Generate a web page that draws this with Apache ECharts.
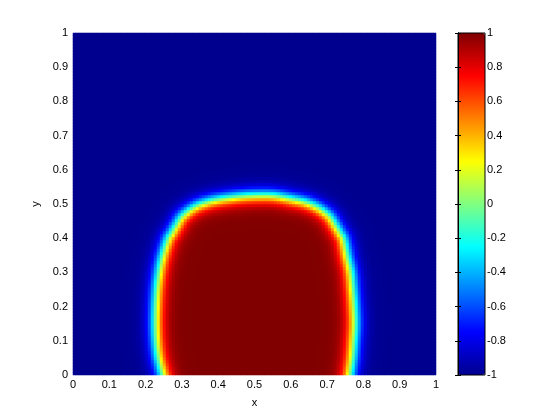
<!DOCTYPE html>
<html>
<head>
<meta charset="utf-8">
<script src="https://cdn.jsdelivr.net/npm/echarts@6/dist/echarts.min.js"></script>
<style>
  html, body { margin: 0; padding: 0; background: #fff; }
  #main { width: 560px; height: 420px; }
</style>
</head>
<body>
<div id="main"></div>
<script>
// zero contour of the field (bottom-left, over the top, to bottom-right)
var boundaryX = [0.248, 0.236, 0.230, 0.228, 0.229, 0.232, 0.238, 0.247, 0.262, 0.273, 0.287, 0.303, 0.336, 0.369, 0.405, 0.460, 0.508,
                 0.555, 0.605, 0.641, 0.674, 0.705, 0.722, 0.736, 0.746, 0.756, 0.766, 0.771, 0.775, 0.777, 0.774, 0.770, 0.763];
var boundaryY = [0.000, 0.050, 0.100, 0.150, 0.200, 0.250, 0.300, 0.345, 0.395, 0.415, 0.440, 0.465, 0.491, 0.505, 0.514, 0.522, 0.525,
                 0.524, 0.514, 0.505, 0.490, 0.466, 0.440, 0.415, 0.395, 0.345, 0.300, 0.250, 0.200, 0.150, 0.100, 0.050, 0.000];
var interfaceWidth = 0.026; // thickness of the diffuse edge
var cellsX = 121, cellsY = 114; // about 3px per cell
var insideValue = 1, outsideValue = -1;

// 9 stops of the jet colormap
var jetColors = ['#00008f', '#0000ff', '#0080ff', '#00ffff', '#80ff80', '#ffff00', '#ff8000', '#ff0000', '#800000'];

// smooth the read contour (catmull-rom) so it has no kinks
function smoothPath(xs, ys, steps) {
  var out = [[xs[0], ys[0]]];
  var n = xs.length;
  for (var i = 0; i < n - 1; i++) {
    var i0 = Math.max(0, i - 1), i3 = Math.min(n - 1, i + 2);
    for (var s = 1; s <= steps; s++) {
      var t = s / steps, t2 = t * t, t3 = t2 * t;
      var f = function (p0, p1, p2, p3) {
        return 0.5 * (2 * p1 + (p2 - p0) * t + (2 * p0 - 5 * p1 + 4 * p2 - p3) * t2 + (3 * p1 - p0 - 3 * p2 + p3) * t3);
      };
      out.push([f(xs[i0], xs[i], xs[i + 1], xs[i3]), f(ys[i0], ys[i], ys[i + 1], ys[i3])]);
    }
  }
  return out;
}
var path = smoothPath(boundaryX, boundaryY, 6);

//点到线段距离
function segDist(px, py, ax, ay, bx, by) {
  var dx = bx - ax, dy = by - ay;
  var t = ((px - ax) * dx + (py - ay) * dy) / (dx * dx + dy * dy);
  t = Math.max(0, Math.min(1, t));
  var cx = ax + t * dx - px, cy = ay + t * dy - py;
  return Math.sqrt(cx * cx + cy * cy);
}
function isInside(px, py) {
  var inside = false;
  var n = path.length;
  for (var i = 0, j = n - 1; i < n; j = i++) {
    var xi = path[i][0], yi = path[i][1], xj = path[j][0], yj = path[j][1];
    if (((yi > py) != (yj > py)) && (px < (xj - xi) * (py - yi) / (yj - yi) + xi)) inside = !inside;
  }
  return inside;
}

var cells = [];
var catsX = [], catsY = [];
for (var i = 0; i < cellsX; i++) catsX.push(i);
for (var j = 0; j < cellsY; j++) catsY.push(j);
for (var i = 0; i < cellsX; i++) {
  for (var j = 0; j < cellsY; j++) {
    var px = (i + 0.5) / cellsX, py = (j + 0.5) / cellsY;
    var d = Infinity;
    for (var k = 0; k < path.length - 1; k++) {
      d = Math.min(d, segDist(px, py, path[k][0], path[k][1], path[k + 1][0], path[k + 1][1]));
    }
    if (!isInside(px, py)) d = -d;
    var v = Math.tanh(d / interfaceWidth);
    cells.push([i, j, Math.max(outsideValue, Math.min(insideValue, v))]);
  }
}

var font = 'Liberation Sans, Arial, Helvetica, sans-serif';
var labelStyle = { color: '#000', fontSize: 11, fontFamily: font };

var chart = echarts.init(document.getElementById('main'));
chart.setOption({
  backgroundColor: '#fff',
  animation: false,
  grid: [
    { left: 73, top: 33, width: 363, height: 342, show: true, borderWidth: 0, backgroundColor: '#00008f' },
    { left: 458, top: 33, width: 27, height: 342, show: true, borderColor: '#000', borderWidth: 1, z: 10, backgroundColor: 'transparent' }
  ],
  xAxis: [
    { type: 'category', gridIndex: 0, data: catsX, show: false },
    {
      type: 'value', gridIndex: 0, min: 0, max: 1, interval: 0.1, position: 'bottom',
      axisLine: { show: false }, axisTick: { show: false }, splitLine: { show: false },
      axisLabel: Object.assign({ margin: 4 }, labelStyle),
      name: 'x', nameLocation: 'middle', nameGap: 22, nameTextStyle: labelStyle
    },
    { type: 'value', gridIndex: 1, min: 0, max: 1, show: false }
  ],
  yAxis: [
    { type: 'category', gridIndex: 0, data: catsY, show: false, position: 'right' },
    {
      type: 'value', gridIndex: 0, min: 0, max: 1, interval: 0.1, position: 'left',
      axisLine: { show: false }, axisTick: { show: false }, splitLine: { show: false },
      axisLabel: Object.assign({ margin: 5 }, labelStyle),
      name: 'y', nameLocation: 'middle', nameGap: 31, nameRotate: 90, nameTextStyle: labelStyle
    },
    {
      type: 'value', gridIndex: 1, min: -1, max: 1, interval: 0.2, position: 'right', z: 10,
      axisLine: { show: true, lineStyle: { color: '#000', width: 1 } },
      axisTick: { show: true, inside: true, length: 3, lineStyle: { color: '#000' } },
      splitLine: { show: false },
      axisLabel: Object.assign({ margin: 2 }, labelStyle)
    },
    {
      type: 'value', gridIndex: 1, min: -1, max: 1, interval: 0.2, position: 'left', z: 10,
      axisLine: { show: true, lineStyle: { color: '#000', width: 1 } },
      axisTick: { show: true, inside: true, length: 3, lineStyle: { color: '#000' } },
      splitLine: { show: false },
      axisLabel: { show: false }
    }
  ],
  visualMap: {
    type: 'continuous',
    min: -1,
    max: 1,
    seriesIndex: 0,
    calculable: false,
    left: 458,
    top: 33,
    itemWidth: 27,
    itemHeight: 342,
    padding: 0,
    text: null,
    inRange: { color: jetColors }
  },
  series: [{
    type: 'heatmap',
    xAxisIndex: 0,
    yAxisIndex: 0,
    data: cells,
    progressive: 0,
    itemStyle: { borderWidth: 0 }
  }]
});
</script>
</body>
</html>
